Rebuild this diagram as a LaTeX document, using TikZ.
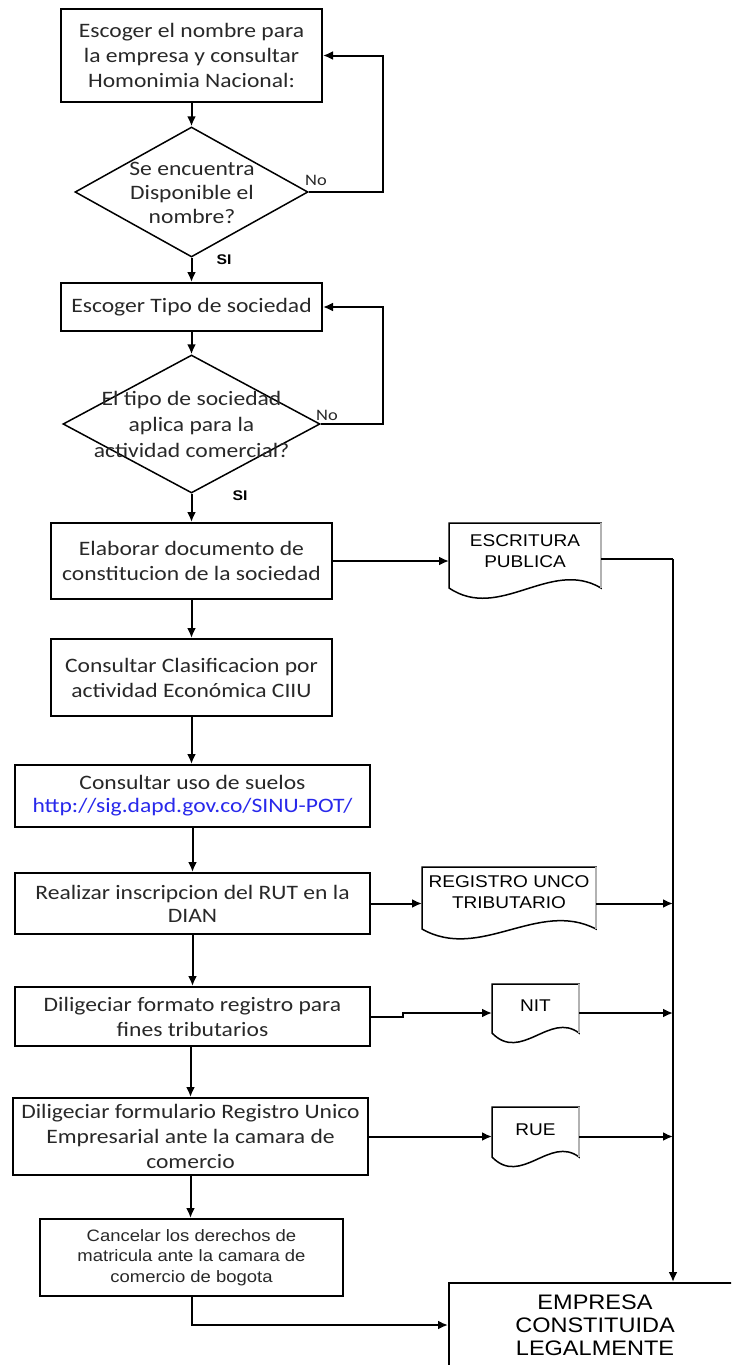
\documentclass[tikz,border=0pt]{standalone}
\usepackage{fontspec}
\setmainfont[FakeStretch=1.15]{Carlito}
\newfontfamily\arialx[FakeStretch=1.12]{Liberation Sans}
\usetikzlibrary{shapes.geometric,arrows.meta,calc}
\definecolor{linkblue}{RGB}{40,40,235}
\definecolor{txt}{RGB}{40,40,40}

% document symbol: rectangle with a wavy bottom edge
% #1 name, #2 x, #3 y (centre of the straight part), #4 width, #5 height,
% #6 rise of the wave near the right end, #7 dip of the wave near the left end
\newcommand\docsheet[7]{%
  \node[inner sep=0pt, outer sep=0pt, minimum width=#4pt, minimum height=#5pt] (#1) at (#2,#3) {};
  \draw[docline] (#1.south west) -- (#1.north west) -- (#1.north east) -- (#1.south east)
    .. controls ($(#1.south east)+(-#4/3,-#6)$) and ($(#1.south west)+(#4/3,#7)$) .. cycle;
  \draw[gray!60, line width=2.4pt] (#1.north east) -- (#1.south east);
}

\begin{document}
\begin{tikzpicture}[x=1pt,y=-1pt,
  proc/.style={draw, line width=2pt, inner sep=0pt, align=center, text=txt,
    font=\fontsize{20.5}{25}\selectfont},
  proc23/.style={proc, font=\fontsize{20.5}{23}\selectfont},
  decision/.style={draw, shape=diamond, line width=1.5pt, inner sep=0pt},
  dectext/.style={align=center, inner sep=0pt, text=txt},
  docline/.style={line width=1.5pt},
  doctext/.style={align=center, inner sep=0pt, font=\arialx\fontsize{17}{21}\selectfont},
  flow/.style={line width=2pt, -{Latex[length=10pt,width=9pt]}},
  wire/.style={line width=2pt},
  lbl/.style={inner sep=0pt, text=txt, font=\fontsize{16}{18}\selectfont},
  silbl/.style={inner sep=0pt, font=\arialx\bfseries\fontsize{14}{16}\selectfont},
]
\useasboundingbox (0,0) rectangle (731,1365);
\clip (0,0) rectangle (731,1365);

% main column
\node[proc, minimum width=261pt, minimum height=93pt] (b1) at (191.5,55.5)
  {Escoger el nombre para\\la empresa y consultar\\Homonimia Nacional:};
\node[decision, minimum width=233pt, minimum height=130pt] (d1) at (191.5,192) {};
\node[dectext, font=\fontsize{20.5}{24}\selectfont] (d1t) at (192,193)
  {Se encuentra\\Disponible el\\nombre?};
\node[proc, minimum width=261pt, minimum height=48pt] (b2) at (191.5,307)
  {Escoger Tipo de sociedad};
\node[decision, minimum width=257pt, minimum height=138pt] (d2) at (191.5,424) {};
\node[dectext, font=\fontsize{20.5}{26}\selectfont] (d2t) at (191.5,424)
  {El tipo de sociedad\\aplica para la\\actividad comercial?};
\node[proc, minimum width=281pt, minimum height=76pt] (b3) at (191.5,561)
  {Elaborar documento de\\constitucion de la sociedad};
\node[proc, minimum width=281pt, minimum height=77pt] (b4) at (191.5,677.5)
  {Consultar Clasificacion por\\actividad Económica CIIU};
\node[proc23, minimum width=355pt, minimum height=62pt] (b5) at (192.5,796)
  {Consultar uso de suelos\\{\color{linkblue}http://sig.dapd.gov.co/SINU-POT/}};
\node[proc23, minimum width=355pt, minimum height=61pt] (b6) at (192.5,903.5)
  {Realizar inscripcion del RUT en la\\DIAN};
\node[proc, minimum width=355pt, minimum height=59pt] (b7) at (192.5,1016.5)
  {Diligeciar formato registro para\\fines tributarios};
\node[proc, minimum width=355pt, minimum height=77pt] (b8) at (190.5,1136.5)
  {Diligeciar formulario Registro Unico\\Empresarial ante la camara de\\comercio};
\node[proc, minimum width=303pt, minimum height=77pt,
  font=\arialx\fontsize{16.5}{20.5}\selectfont] (b9) at (191.5,1257.5)
  {Cancelar los derechos de\\matricula ante la camara de\\comercio de bogota};
\node[proc, minimum width=292pt, minimum height=84pt, text=black,
  font=\arialx\fontsize{21}{23}\selectfont] (emp) at (595,1325)
  {EMPRESA\\CONSTITUIDA\\LEGALMENTE};

% documents
\docsheet{esc}{525}{555.5}{152}{65}{30}{34}
\node[doctext] (esct) at (525,551.5) {ESCRITURA\\PUBLICA};
\docsheet{rut}{509}{898}{174}{62}{30}{33}
\node[doctext] (rutt) at (509,892.5) {REGISTRO UNCO\\TRIBUTARIO};
\docsheet{nit}{535.5}{1008.5}{87}{49}{22}{30}
\node[doctext] (nitt) at (535.5,1006) {NIT};
\docsheet{rue}{535.5}{1132}{87}{50}{22}{30}
\node[doctext] (ruet) at (535.5,1130) {RUE};

% decision labels
\node[lbl] (no1) at (316,180) {No};
\node[lbl] (no2) at (327,415) {No};
\node[silbl] (si1) at (224,260) {SI};
\node[silbl] (si2) at (240,496) {SI};

% collecting line on the right
\coordinate (bus) at (673,559);
\coordinate (nitin) at (403,1013);

% main flow
\draw[flow] (b1.south) -- (d1.north);
\draw[flow] (d1.east) -- ++(74,0) |- (b1.east);
\draw[flow] (d1.south) -- (b2.north);
\draw[flow] (b2.south) -- (d2.north);
\draw[flow] (d2.east) -- ++(62,0) |- (b2.east);
\draw[flow] (d2.south) -- (b3.north);
\draw[flow] (b3.south) -- (b4.north);
\draw[flow] (b4.south) -- (b4.south |- b5.north);
\draw[flow] (b5.south) -- (b6.north);
\draw[flow] (b6.south) -- (b7.north);
\draw[flow] (b8.north |- b7.south) -- (b8.north);
\draw[flow] (b8.south) -- (b8.south |- b9.north);
\draw[flow] (b9.south) |- (emp.west);

% outputs to documents
\draw[flow] (b3.east) -- (b3.east -| esc.west);
\draw[wire] (esc.east |- bus) -- (bus);
\draw[flow] (bus) -- (bus |- emp.north);
\draw[flow] (b6.east) -- (b6.east -| rut.west);
\draw[flow] (b6.east -| rut.east) -- (b6.east -| bus);
\draw[flow] (b7.east) -| (nitin) -- (nitin -| nit.west);
\draw[flow] (nitin -| nit.east) -- (nitin -| bus);
\draw[flow] (b8.east) -- (b8.east -| rue.west);
\draw[flow] (b8.east -| rue.east) -- (b8.east -| bus);
\end{tikzpicture}
\end{document}
